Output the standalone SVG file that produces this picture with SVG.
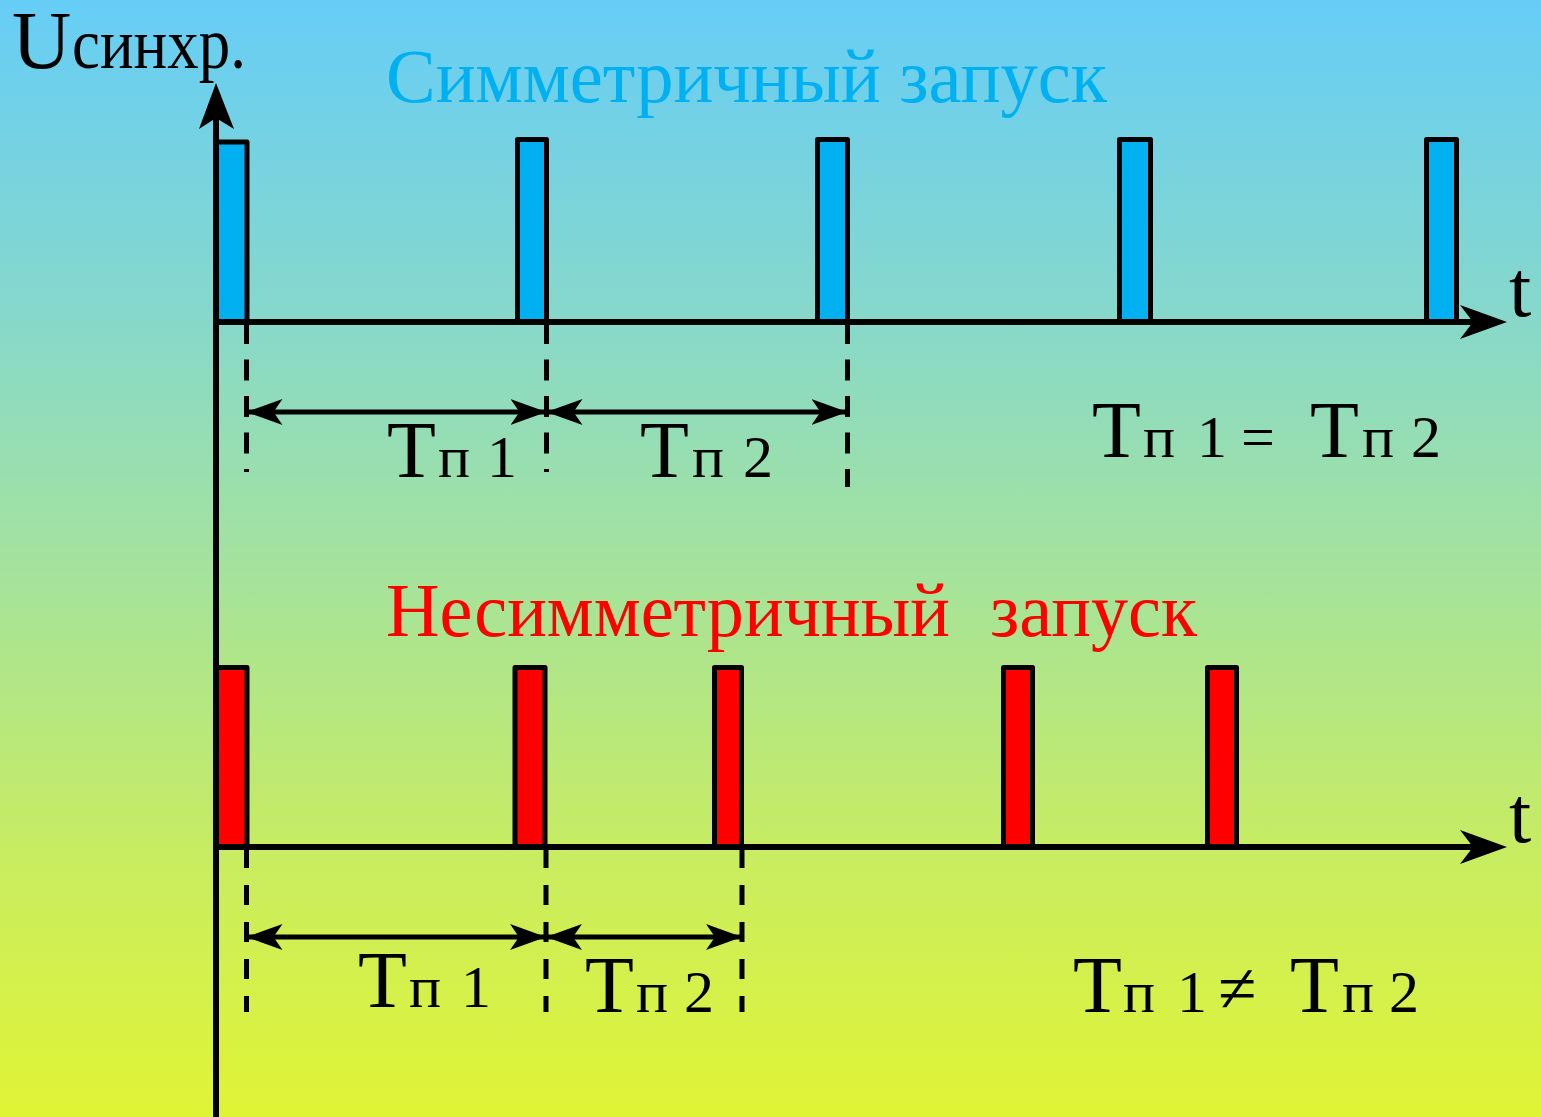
<svg xmlns="http://www.w3.org/2000/svg" width="1541" height="1117" viewBox="0 0 1541 1117">
<defs>
<linearGradient id="bg" x1="0" y1="0" x2="0" y2="1">
<stop offset="0" stop-color="#66cdf6"/>
<stop offset="0.28" stop-color="#86d8cb"/>
<stop offset="0.52" stop-color="#a6e39a"/>
<stop offset="0.78" stop-color="#caed5e"/>
<stop offset="1" stop-color="#e0f435"/>
</linearGradient>
<marker id="dim" viewBox="0 -13 36 26" refX="36" refY="0" markerWidth="36" markerHeight="26" markerUnits="userSpaceOnUse" orient="auto-start-reverse">
<path d="M36,0 L0,-13 L9,0 L0,13 Z" fill="#000"/>
</marker>
<style>
.ax{stroke:#000;stroke-width:6;fill:none}
.dash{stroke:#000;stroke-width:5;fill:none}
.dim{stroke:#000;stroke-width:5;fill:none;marker-start:url(#dim);marker-end:url(#dim)}
.pb{fill:#00b0f0;stroke:#000;stroke-width:5;stroke-linejoin:round}
.pr{fill:#ff0000;stroke:#000;stroke-width:5;stroke-linejoin:round}
text{font-family:"Liberation Serif","Times New Roman",serif;fill:#000}
.big{font-size:80px}
.sm{font-size:60px}
.tb{font-size:76px;fill:#00b0f0}
.tr{font-size:76px;fill:#ff0000}
</style>
</defs>
<rect x="0" y="0" width="1541" height="1117" fill="url(#bg)"/>

<g id="titles">
<text class="tb" x="386" y="102" textLength="721" lengthAdjust="spacingAndGlyphs">Симметричный запуск</text>
<text class="tr" x="386" y="636" textLength="564" lengthAdjust="spacingAndGlyphs">Несимметричный</text>
<text class="tr" x="990" y="636" textLength="207" lengthAdjust="spacingAndGlyphs">запуск</text>
</g>

<g id="ylabel">
<text x="12" y="68" font-size="82">U</text>
<text x="72" y="68" font-size="72" textLength="174" lengthAdjust="spacingAndGlyphs">синхр.</text>
</g>

<g id="pulses-top">
<rect class="pb" x="216" y="142" width="31" height="180"/>
<rect class="pb" x="517.5" y="139.5" width="29" height="182.5"/>
<rect class="pb" x="817.5" y="139.5" width="30" height="182.5"/>
<rect class="pb" x="1119.5" y="139.5" width="31" height="182.5"/>
<rect class="pb" x="1426.5" y="139.5" width="30" height="182.5"/>
</g>

<g id="pulses-bottom">
<rect class="pr" x="216" y="667.5" width="31" height="179.5"/>
<rect class="pr" x="515" y="667.5" width="30" height="179.5"/>
<rect class="pr" x="714.5" y="667.5" width="27" height="179.5"/>
<rect class="pr" x="1003.5" y="667.5" width="29" height="179.5"/>
<rect class="pr" x="1207.5" y="667.5" width="29" height="179.5"/>
</g>

<g id="connectors">
<line class="ax" x1="216" y1="118" x2="216" y2="1117"/>
<polygon points="216,83 234,129 216,118 199,129" fill="#000"/>
<line class="ax" x1="216" y1="322" x2="1475" y2="322"/>
<polygon points="1507,322 1460,305 1473,322 1460,339" fill="#000"/>
<line class="ax" x1="216" y1="847" x2="1475" y2="847"/>
<polygon points="1507,847 1460,830 1473,847 1460,864" fill="#000"/>

<line class="dash" x1="246.5" y1="323" x2="246.5" y2="472" stroke-dasharray="21 15.5"/>
<line class="dash" x1="546.5" y1="323" x2="546.5" y2="472" stroke-dasharray="21 15.5"/>
<line class="dash" x1="847.5" y1="323" x2="847.5" y2="487" stroke-dasharray="21 15.5"/>
<line class="dim" x1="246.5" y1="412" x2="546.5" y2="412"/>
<line class="dim" x1="546.5" y1="412" x2="847.5" y2="412"/>

<line class="dash" x1="246.5" y1="848" x2="246.5" y2="1012" stroke-dasharray="20 17"/>
<line class="dash" x1="546" y1="848" x2="546" y2="1012" stroke-dasharray="20 17"/>
<line class="dash" x1="742" y1="848" x2="742" y2="1012" stroke-dasharray="20 17"/>
<line class="dim" x1="246.5" y1="937" x2="546" y2="937"/>
<line class="dim" x1="546" y1="937" x2="742" y2="937"/>
</g>

<g id="axis-labels">
<text x="1509" y="316" class="big">t</text>
<text x="1509" y="842" class="big">t</text>
</g>

<g id="period-labels">
<text y="477"><tspan class="big" x="387">Т</tspan><tspan class="sm" x="438">п</tspan><tspan class="sm" x="487">1</tspan></text>
<text y="477"><tspan class="big" x="640">Т</tspan><tspan class="sm" x="692">п</tspan><tspan class="sm" x="743">2</tspan></text>
<text y="457"><tspan class="big" x="1092">Т</tspan><tspan class="sm" x="1143">п</tspan><tspan class="sm" x="1197">1</tspan><tspan class="sm" x="1241">=</tspan><tspan class="big" x="1310">Т</tspan><tspan class="sm" x="1362">п</tspan><tspan class="sm" x="1411">2</tspan></text>
<text y="1007"><tspan class="big" x="358">Т</tspan><tspan class="sm" x="409">п</tspan><tspan class="sm" x="461">1</tspan></text>
<text y="1012"><tspan class="big" x="585">Т</tspan><tspan class="sm" x="636">п</tspan><tspan class="sm" x="684">2</tspan></text>
<text y="1012"><tspan class="big" x="1073">Т</tspan><tspan class="sm" x="1123">п</tspan><tspan class="sm" x="1177">1</tspan><tspan x="1218" font-size="70">≠</tspan><tspan class="big" x="1290">Т</tspan><tspan class="sm" x="1342">п</tspan><tspan class="sm" x="1389">2</tspan></text>
</g>
</svg>
